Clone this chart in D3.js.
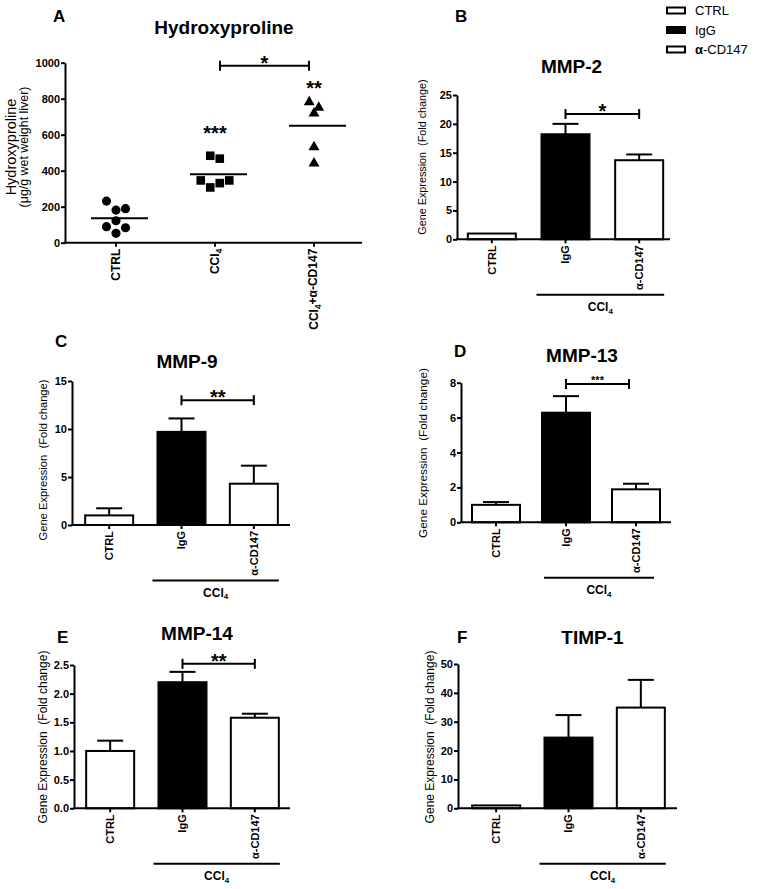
<!DOCTYPE html>
<html><head><meta charset="utf-8">
<script src="https://cdn.jsdelivr.net/npm/d3@7"></script>
<style>
body{margin:0;background:#fff}
svg{display:block}
text{font-family:"Liberation Sans",Arial,sans-serif;fill:#000}
</style>
</head><body>
<svg id="chart" width="757" height="889"></svg>
<script>
// ---------------- DATA ----------------
const hypCategories = ["CTRL", "CCl4", "CCl4+α-CD147"];
const hypCtrl = [231, 181, 189, 89, 122, 83, 52];
const hypCcl4 = [483, 467, 346, 307, 331, 346];
const hypAnti = [787, 756, 724, 537, 446];
const hypTicks = [0, 200, 400, 600, 800, 1000];
const hypStars = ["", "***", "**"];
const hypStarLevels = [null, 570, 822];
const hypBracket = { from: 1, to: 2, level: 983, label: "*" };

const groups = ["CTRL", "IgG", "α-CD147"];
const legendLabels = ["CTRL", "IgG", "α-CD147"];

const mmp2Mean = [1.0, 18.2, 13.7];
const mmp2Sem = [0, 1.8, 1.0];
const mmp2Ticks = [0, 5, 10, 15, 20, 25];
const mmp2Sig = { from: 1, to: 2, level: 21.7, label: "*" };

const mmp9Mean = [1.0, 9.7, 4.3];
const mmp9Sem = [0.74, 1.4, 1.88];
const mmp9Ticks = [0, 5, 10, 15];
const mmp9Sig = { from: 1, to: 2, level: 13.0, label: "**" };

const mmp13Mean = [1.0, 6.28, 1.89];
const mmp13Sem = [0.16, 0.95, 0.32];
const mmp13Ticks = [0, 2, 4, 6, 8];
const mmp13Sig = { from: 1, to: 2, level: 7.93, label: "***" };

const mmp14Mean = [1.0, 2.2, 1.58];
const mmp14Sem = [0.18, 0.18, 0.07];
const mmp14Ticks = [0, 0.5, 1.0, 1.5, 2.0, 2.5];
const mmp14Sig = { from: 1, to: 2, level: 2.52, label: "**" };

const timp1Mean = [1.0, 24.5, 34.9];
const timp1Sem = [0, 7.8, 9.6];
const timp1Ticks = [0, 10, 20, 30, 40, 50];

// ---------------- DRAW ----------------
const svg = d3.select("#chart");

function addCCl4(t, subSize, rest) {
  t.append("tspan").text("CCl");
  t.append("tspan").attr("font-size", subSize).attr("dy", "0.35em").text("4");
  if (rest) t.append("tspan").attr("dy", "-0.35em").text(rest);
}

function xLabel(g, cx, y0, label, size) {
  const t = g.append("text")
    .attr("transform", `translate(${cx},${y0 + 6}) rotate(-90)`)
    .attr("text-anchor", "end").attr("dy", "0.36em")
    .attr("font-size", size).attr("font-weight", "bold");
  if (label.startsWith("CCl4")) {
    addCCl4(t, size * 0.7, label.slice(4));
  } else t.text(label);
}

function bracket(g, x1, x2, yv, label, fs) {
  g.append("line").attr("x1", x1).attr("x2", x2).attr("y1", yv).attr("y2", yv)
    .attr("stroke", "#000").attr("stroke-width", 2);
  [x1, x2].forEach(xx => g.append("line").attr("x1", xx).attr("x2", xx)
    .attr("y1", yv - 5).attr("y2", yv + 5).attr("stroke", "#000").attr("stroke-width", 2));
  g.append("text").attr("x", (x1 + x2) / 2).attr("y", yv - 4 + 0.4 * fs)
    .attr("text-anchor", "middle").attr("font-size", fs).attr("font-weight", "bold").text(label);
}

function styleAxis(ax) {
  ax.select(".domain").attr("stroke-width", 2);
  ax.selectAll(".tick line").attr("stroke-width", 2);
  ax.selectAll(".tick text").attr("font-size", 11).attr("font-weight", "bold")
    .attr("font-family", '"Liberation Sans",Arial,sans-serif');
}

// ---- Panel A: Hydroxyproline ----
(function () {
  const cfg = { ax: 65, axRight: 362, y0: 242.7, yTop: 62.7, band: [66.5, 363.5] };
  const g = svg.append("g");
  const y = d3.scaleLinear().domain([0, 1000]).range([cfg.y0, cfg.yTop]);
  const x = d3.scaleBand().domain(hypCategories).range(cfg.band);
  const cx = c => x(c) + x.bandwidth() / 2;

  const yAx = g.append("g").attr("transform", `translate(${cfg.ax},0)`)
    .call(d3.axisLeft(y).tickValues(hypTicks).tickSize(4).tickSizeOuter(0).tickPadding(1)
      .tickFormat(d3.format("d")));
  styleAxis(yAx);
  g.append("line").attr("x1", cfg.ax - 1).attr("x2", cfg.axRight).attr("y1", cfg.y0).attr("y2", cfg.y0)
    .attr("stroke", "#000").attr("stroke-width", 2);
  hypCategories.forEach(c => {
    g.append("line").attr("x1", cx(c)).attr("x2", cx(c)).attr("y1", cfg.y0).attr("y2", cfg.y0 + 4)
      .attr("stroke", "#000").attr("stroke-width", 2);
    xLabel(g, cx(c), cfg.y0, c, 12);
  });

  const d = 9.5;
  function swarm(vals) {
    const idx = vals.map((v, i) => i).sort((a, b) => vals[b] - vals[a]);
    const rows = []; let cur = null;
    idx.forEach(i => {
      const py = y(vals[i]);
      if (cur && py - cur.start < d) cur.items.push(i);
      else { cur = { start: py, items: [i] }; rows.push(cur); }
    });
    const off = new Array(vals.length);
    rows.forEach(r => {
      r.items.sort((a, b) => a - b);
      const n = r.items.length;
      r.items.forEach((i, k) => off[i] = (k - (n - 1) / 2) * d);
    });
    return off;
  }
  const sets = [hypCtrl, hypCcl4, hypAnti];
  const symbols = [d3.symbol(d3.symbolCircle, 66), d3.symbol(d3.symbolSquare, 74), d3.symbol(d3.symbolTriangle, 52)];
  sets.forEach((vals, k) => {
    const c = cx(hypCategories[k]);
    const off = swarm(vals);
    g.selectAll(null).data(vals).enter().append("path")
      .attr("d", symbols[k]())
      .attr("transform", (v, i) => `translate(${c + off[i]},${y(v) + (k === 2 ? 1 : 0)})`)
      .attr("fill", "#000");
    const m = d3.mean(vals);
    g.append("line").attr("x1", c - 25).attr("x2", c + 32).attr("y1", y(m)).attr("y2", y(m))
      .attr("stroke", "#000").attr("stroke-width", 2);
    if (hypStars[k]) g.append("text").attr("x", c).attr("y", y(hypStarLevels[k]))
      .attr("text-anchor", "middle").attr("font-size", 20).attr("font-weight", "bold").text(hypStars[k]);
  });
  bracket(g, cx(hypCategories[hypBracket.from]) + 5, cx(hypCategories[hypBracket.to]) - 5,
    y(hypBracket.level), hypBracket.label, 20);

  g.append("text").attr("x", 53).attr("y", 22).attr("font-size", 17).attr("font-weight", "bold").text("A");
  g.append("text").attr("x", 224).attr("y", 34).attr("text-anchor", "middle")
    .attr("font-size", 19).attr("font-weight", "bold").text("Hydroxyproline");
  g.append("text").attr("transform", "translate(16,147) rotate(-90)").attr("text-anchor", "middle")
    .attr("font-size", 14.5).text("Hydroxyproline");
  g.append("text").attr("transform", "translate(27.5,147) rotate(-90)").attr("text-anchor", "middle")
    .attr("font-size", 12.4).text("(\u03bcg/g wet weight liver)");
})();

// ---- Bar panels ----
function barPanel(cfg, means, sems, ticks, sig) {
  const g = svg.append("g");
  const y = d3.scaleLinear().domain([0, ticks[ticks.length - 1]]).range([cfg.y0, cfg.yTop]);
  const x = d3.scaleBand().domain(groups).range(cfg.band);
  const cx = c => x(c) + x.bandwidth() / 2;
  const bw = 48;

  const yAx = g.append("g").attr("transform", `translate(${cfg.ax},0)`)
    .call(d3.axisLeft(y).tickValues(ticks).tickSize(4).tickSizeOuter(0).tickPadding(1)
      .tickFormat(cfg.fmt ? d3.format(cfg.fmt) : d3.format("d")));
  styleAxis(yAx);

  g.selectAll(null).data(means).enter().append("rect")
    .attr("x", (v, i) => cx(groups[i]) - bw / 2).attr("width", bw)
    .attr("y", v => y(v)).attr("height", v => y(0) - y(v))
    .attr("fill", (v, i) => i === 1 ? "#000" : "#fff")
    .attr("stroke", "#000").attr("stroke-width", 2);

  means.forEach((v, i) => {
    const e = sems[i];
    if (!e) return;
    const c = cx(groups[i]);
    g.append("line").attr("x1", c).attr("x2", c).attr("y1", y(v)).attr("y2", y(v + e))
      .attr("stroke", "#000").attr("stroke-width", 2);
    g.append("line").attr("x1", c - 13).attr("x2", c + 13).attr("y1", y(v + e)).attr("y2", y(v + e))
      .attr("stroke", "#000").attr("stroke-width", 2);
  });

  g.append("line").attr("x1", cfg.ax - 1).attr("x2", cfg.axRight).attr("y1", cfg.y0).attr("y2", cfg.y0)
    .attr("stroke", "#000").attr("stroke-width", 2);
  groups.forEach(c => {
    g.append("line").attr("x1", cx(c)).attr("x2", cx(c)).attr("y1", cfg.y0).attr("y2", cfg.y0 + 4)
      .attr("stroke", "#000").attr("stroke-width", 2);
    xLabel(g, cx(c), cfg.y0, c, 11);
  });

  const ly = cfg.y0 + 55.5;
  const lx1 = cx(groups[1]) - (cfg.lineL || 29), lx2 = cx(groups[2]) + (cfg.lineR || 25);
  g.append("line").attr("x1", lx1).attr("x2", lx2).attr("y1", ly).attr("y2", ly)
    .attr("stroke", "#000").attr("stroke-width", 2);
  const ct = g.append("text").attr("x", (lx1 + lx2) / 2).attr("y", ly + 16).attr("text-anchor", "middle")
    .attr("font-size", 12).attr("font-weight", "bold");
  addCCl4(ct, 8, "");

  if (sig) bracket(g, cx(groups[sig.from]), cx(groups[sig.to]) - (cfg.sigTrim || 0),
    y(sig.level), sig.label, cfg.starSize || 20);

  g.append("text").attr("x", cfg.letter[0]).attr("y", cfg.letter[1])
    .attr("font-size", 17).attr("font-weight", "bold").text(cfg.key);
  g.append("text").attr("x", cfg.title[0]).attr("y", cfg.title[1]).attr("text-anchor", "middle")
    .attr("font-size", 19).attr("font-weight", "bold").text(cfg.name);
  g.append("text").attr("transform", `translate(${cfg.ylab[0]},${cfg.ylab[1]}) rotate(-90)`)
    .attr("text-anchor", "middle").attr("font-size", cfg.ylabSize || 11.5).style("white-space", "pre")
    .text("Gene Expression  (Fold change)");
}

barPanel({ key: "B", name: "MMP-2", ax: 457, axRight: 670, y0: 239.3, yTop: 95, band: [455, 676],
  letter: [455, 22], title: [571.5, 73], ylab: [426, 157], ylabSize: 10.8 }, mmp2Mean, mmp2Sem, mmp2Ticks, mmp2Sig);
barPanel({ key: "C", name: "MMP-9", ax: 72, axRight: 290, y0: 525, yTop: 381, band: [73, 290],
  letter: [55, 347], title: [187, 368], ylab: [47, 460], ylabSize: 11.2 }, mmp9Mean, mmp9Sem, mmp9Ticks, mmp9Sig);
barPanel({ key: "D", name: "MMP-13", ax: 461, axRight: 671, y0: 522.3, yTop: 382.7, band: [461, 671],
  letter: [454, 357], title: [582, 362], ylab: [427, 453], ylabSize: 11.8, lineL: 22, lineR: 18, sigTrim: 7, starSize: 11 },
  mmp13Mean, mmp13Sem, mmp13Ticks, mmp13Sig);
barPanel({ key: "E", name: "MMP-14", ax: 74, axRight: 290, y0: 808.3, yTop: 665, band: [74, 291],
  letter: [57, 643], title: [197, 640], ylab: [47, 737], ylabSize: 12, fmt: ".1f" }, mmp14Mean, mmp14Sem, mmp14Ticks, mmp14Sig);
barPanel({ key: "F", name: "TIMP-1", ax: 458, axRight: 677, y0: 808.3, yTop: 664, band: [460, 677],
  letter: [457, 643], title: [592.5, 644], ylab: [434, 737], ylabSize: 12 }, timp1Mean, timp1Sem, timp1Ticks, null);

// ---- Legend ----
const leg = svg.append("g");
legendLabels.forEach((l, i) => {
  const yy = 10.5 + i * 19.5;
  leg.append("rect").attr("x", 667).attr("y", yy - 3).attr("width", 18).attr("height", 6)
    .attr("fill", i === 1 ? "#000" : "#fff").attr("stroke", "#000").attr("stroke-width", 2);
  const t = leg.append("text").attr("x", 695).attr("y", yy + 4.5).attr("font-size", 13);
  if (l.startsWith("α")) {
    t.append("tspan").attr("font-weight", "bold").text("α");
    t.append("tspan").text(l.slice(1));
  } else t.text(l);
});
</script>
</body></html>
